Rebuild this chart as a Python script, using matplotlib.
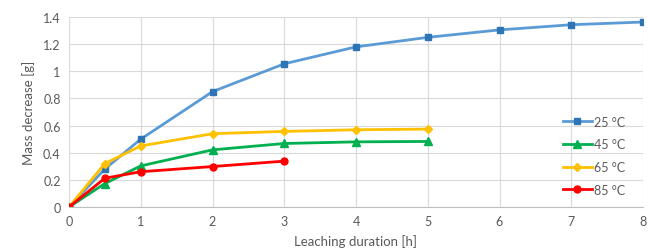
import matplotlib.pyplot as plt

plt.rcParams['font.family'] = ['Lato', 'DejaVu Sans']

hours = [0, 0.5, 1, 2, 3, 4, 5, 6, 7, 8]
mass_25 = [0, 0.28, 0.50, 0.85, 1.055, 1.18, 1.25, 1.305, 1.343, 1.363]
mass_45 = [0, 0.173, 0.303, 0.421, 0.468, 0.48, 0.483]
mass_65 = [0, 0.32, 0.45, 0.54, 0.557, 0.569, 0.574]
mass_85 = [0, 0.212, 0.26, 0.298, 0.338]
labels = ['25 °C', '45 °C', '65 °C', '85 °C']

grey = '#595959'
fig = plt.figure(figsize=(6.48, 2.53), dpi=100)
ax = fig.add_axes([69/648, 45/253, 574/648, 190/253])

ax.plot(hours, mass_25, color='#5B9BD5', lw=2, marker='s', ms=5,
        mfc='#2E75B6', mec='#2E75B6', label=labels[0])
ax.plot(hours[:7], mass_45, color='#00B050', lw=2, marker='^', ms=6,
        label=labels[1])
ax.plot(hours[:7], mass_65, color='#FFC000', lw=2, marker='D', ms=4.5,
        label=labels[2])
ax.plot(hours[:5], mass_85, color='#FF0000', lw=2, marker='o', ms=5,
        label=labels[3])

ax.set_xlim(0, 8)
ax.set_ylim(0, 1.4)
ax.set_xticks(range(9))
ax.set_yticks([0, 0.2, 0.4, 0.6, 0.8, 1, 1.2, 1.4])
ax.set_yticklabels(['0', '0.2', '0.4', '0.6', '0.8', '1', '1.2', '1.4'])
ax.grid(color='#D9D9D9', lw=0.8)
ax.set_axisbelow(True)
for s in ax.spines.values():
    s.set_visible(False)
ax.spines['bottom'].set_visible(True)
ax.spines['bottom'].set_color('#BFBFBF')
ax.tick_params(length=0, labelsize=9, colors=grey, pad=6)
for t in ax.get_xticklabels() + ax.get_yticklabels():
    t.set_clip_on(False)

ax.set_xlabel('Leaching duration [h]', fontsize=9.5, color=grey, labelpad=5)
ax.set_ylabel('Mass decrease [g]', fontsize=9.5, color=grey, labelpad=6)

leg = ax.legend(loc='center left', bbox_to_anchor=(0.852, 0.27), frameon=False,
                fontsize=9, handlelength=2.3, handletextpad=0.2,
                labelspacing=0.85, borderaxespad=0)
for t in leg.get_texts():
    t.set_color(grey)

fig.savefig('out.png', dpi=100)
